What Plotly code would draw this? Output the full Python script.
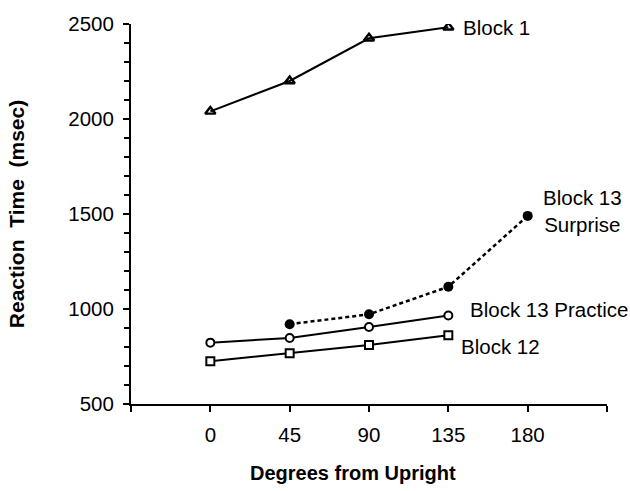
import plotly.graph_objects as go

degrees = [0, 45, 90, 135, 180]
block1 = [2040, 2200, 2425, 2483]
block13_practice = [823, 847, 905, 966]
block12 = [725, 767, 810, 862]
surprise_deg = [45, 90, 135, 180]
block13_surprise = [920, 972, 1117, 1490]

x_tickvals = [-45, 0, 45, 90, 135, 180, 225]
x_ticktext = ["", "0", "45", "90", "135", "180", ""]
y_tickvals = [500, 1000, 1500, 2000, 2500]

FONT = "Liberation Sans, Arial, Helvetica, sans-serif"
FS = 20.5

fig = go.Figure()
fig.add_trace(go.Scatter(x=degrees[:4], y=block1, mode="lines+markers",
                         line=dict(color="black", width=2),
                         marker=dict(symbol="triangle-up-open", size=9, color="black",
                                     line=dict(width=2.4, color="black"))))
fig.add_trace(go.Scatter(x=degrees[:4], y=block13_practice, mode="lines+markers",
                         line=dict(color="black", width=2),
                         marker=dict(symbol="circle", size=8, color="white",
                                     line=dict(width=2, color="black"))))
fig.add_trace(go.Scatter(x=degrees[:4], y=block12, mode="lines+markers",
                         line=dict(color="black", width=2),
                         marker=dict(symbol="square", size=8, color="white",
                                     line=dict(width=2, color="black"))))
fig.add_trace(go.Scatter(x=surprise_deg, y=block13_surprise, mode="lines+markers",
                         line=dict(color="black", width=2.5, dash="4px,3px"),
                         marker=dict(symbol="circle", size=10, color="black")))

ann_font = dict(family=FONT, size=FS, color="black")
fig.add_annotation(x=142, y=2480, text="Block 1", showarrow=False,
                   xanchor="left", yanchor="middle", font=ann_font)
fig.add_annotation(x=211, y=1518, text="Block 13<br>Surprise", showarrow=False,
                   xanchor="center", yanchor="middle", align="center", font=ann_font)
fig.add_annotation(x=146, y=997, text="Block 13 Practice", showarrow=False,
                   xanchor="left", yanchor="middle", font=ann_font)
fig.add_annotation(x=141, y=801, text="Block 12", showarrow=False,
                   xanchor="left", yanchor="middle", font=ann_font)
# x-axis title (placed slightly left of centre, as in the original)
fig.add_annotation(xref="paper", yref="paper", x=0.466, y=-0.182,
                   text="<b>Degrees from Upright</b>", showarrow=False,
                   xanchor="center", yanchor="middle",
                   font=dict(family=FONT, size=20, color="black"))

fig.update_layout(
    width=630, height=491,
    margin=dict(l=131, r=23, t=12, b=87),
    paper_bgcolor="white", plot_bgcolor="white",
    showlegend=False,
    font=dict(family=FONT, size=FS, color="black"),
)
fig.update_xaxes(
    range=[-45, 225], tickvals=x_tickvals, ticktext=x_ticktext,
    showline=True, linecolor="black", linewidth=2, showgrid=False, zeroline=False,
    ticks="outside", ticklen=6, tickwidth=2, tickcolor="black",
    ticklabelstandoff=5,
    tickfont=dict(family=FONT, size=FS),
)
fig.update_yaxes(
    range=[500, 2500], tickvals=y_tickvals,
    showline=True, linecolor="black", linewidth=2, showgrid=False, zeroline=False,
    ticks="outside", ticklen=6, tickwidth=2, tickcolor="black",
    ticklabelstandoff=5,
    minor=dict(tickvals=list(range(600, 2500, 100)), ticks="outside", ticklen=5,
               tickwidth=1.5, tickcolor="black", showgrid=False),
    tickfont=dict(family=FONT, size=FS),
    title=dict(text="<b>Reaction\u00a0\u00a0Time\u00a0\u00a0(msec)</b>",
               font=dict(family=FONT, size=21), standoff=38),
)

fig.write_html("out.html",
               config={"displayModeBar": False},
               post_script="document.body.style.margin='0';document.body.style.padding='0';"
                           "document.body.style.overflow='hidden';")
